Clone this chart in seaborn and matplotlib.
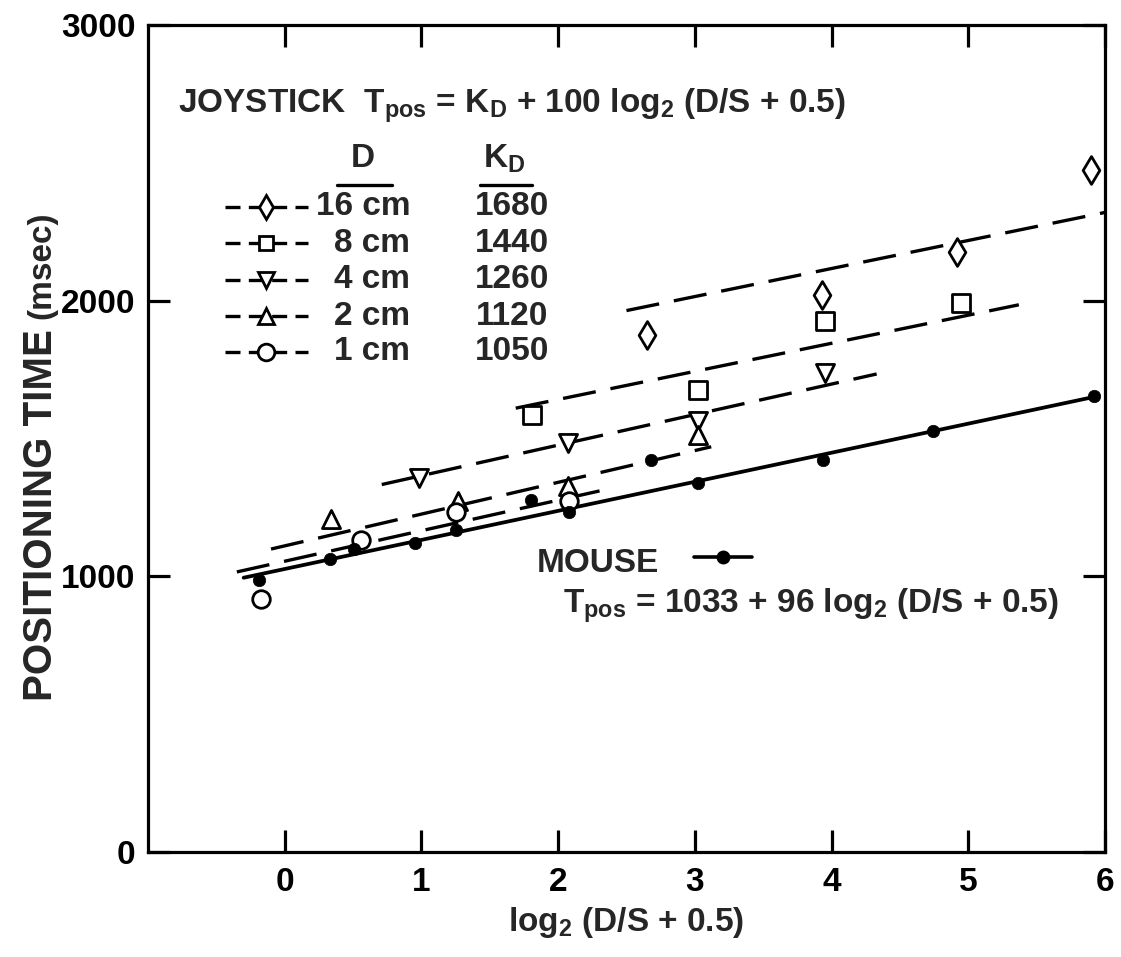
import numpy as np
import pandas as pd
import matplotlib
matplotlib.use("Agg")
import matplotlib.pyplot as plt
import seaborn as sns

# ---------------- data ----------------
x_ticks = [0, 1, 2, 3, 4, 5, 6]
y_ticks = [0, 1000, 2000, 3000]

mouse_x = [-0.19, 0.33, 0.51, 0.95, 1.25, 1.80, 2.08, 2.68, 3.02, 3.94, 4.74, 5.92]
mouse_y = [985, 1062, 1100, 1122, 1169, 1277, 1235, 1421, 1337, 1421, 1526, 1654]
mouse_fit_x = [-0.30, 5.95]
mouse_fit_y = [995, 1654]

joy_labels = ["16 cm", "8 cm", "4 cm", "2 cm", "1 cm"]
joy_kd = [1680, 1440, 1260, 1120, 1050]
joy_markers = ["d", "s", "v", "^", "o"]

d16_x = [2.65, 3.93, 4.92, 5.90]
d16_y = [1876, 2022, 2175, 2474]
d8_x = [1.81, 3.02, 3.95, 4.95]
d8_y = [1585, 1676, 1927, 1993]
d4_x = [0.98, 2.07, 3.02, 3.95]
d4_y = [1355, 1483, 1563, 1738]
d2_x = [0.34, 1.27, 2.07, 3.02]
d2_y = [1209, 1275, 1326, 1512]
d1_x = [-0.17, 0.56, 1.25, 2.08]
d1_y = [918, 1133, 1235, 1275]

fit16_x = [2.50, 6.00]
fit16_y = [1964, 2320]
fit8_x = [1.69, 5.37]
fit8_y = [1610, 1985]
fit4_x = [0.71, 4.33]
fit4_y = [1333, 1734]
fit2_x = [-0.10, 3.12]
fit2_y = [1099, 1470]
fit1_x = [-0.35, 2.35]
fit1_y = [1016, 1315]

# ---------------- style ----------------
sns.set_theme(style="ticks")
plt.rcParams['font.family'] = ['Liberation Sans', 'DejaVu Sans']
plt.rcParams['font.weight'] = 'bold'
plt.rcParams['mathtext.fontset'] = 'custom'
plt.rcParams['mathtext.rm'] = 'Liberation Sans:bold'
plt.rcParams['mathtext.it'] = 'Liberation Sans:bold'
plt.rcParams['mathtext.bf'] = 'Liberation Sans:bold'
plt.rcParams['axes.linewidth'] = 2.3

fig = plt.figure(figsize=(11.21, 9.57), dpi=100)
fig.patch.set_facecolor('white')
ax = fig.add_axes([0.1320, 0.1097, 0.8537, 0.8642])
ax.set_facecolor('white')

FS = 24
LW = 2.4
dash = (0, (10, 4.5))

series = [
    (d16_x, d16_y, fit16_x, fit16_y, "d", 200),
    (d8_x, d8_y, fit8_x, fit8_y, "s", 150),
    (d4_x, d4_y, fit4_x, fit4_y, "v", 170),
    (d2_x, d2_y, fit2_x, fit2_y, "^", 170),
    (d1_x, d1_y, fit1_x, fit1_y, "o", 160),
]
for xs, ys, fx, fy, mk, sz in series:
    sns.lineplot(x=fx, y=fy, ax=ax, color='black', lw=LW, linestyle=dash,
                 sort=False, estimator=None, zorder=2)

sns.lineplot(x=mouse_fit_x, y=mouse_fit_y, ax=ax, color='black', lw=LW + 0.3,
             sort=False, estimator=None, zorder=2)

for xs, ys, fx, fy, mk, sz in series:
    sns.scatterplot(x=xs, y=ys, ax=ax, marker=mk, s=sz, color='white',
                    edgecolor='black', linewidth=2.0, zorder=4)

sns.scatterplot(x=mouse_x, y=mouse_y, ax=ax, marker='o', s=80, color='black',
                edgecolor='black', linewidth=0.5, zorder=5)

ax.set_xlim(-1, 6)
ax.set_ylim(0, 3000)
ax.set_xticks(x_ticks)
ax.set_yticks(y_ticks)
ax.set_xticklabels([str(v) for v in x_ticks], fontsize=FS, fontweight='bold')
ax.set_yticklabels([str(v) for v in y_ticks], fontsize=FS, fontweight='bold')
ax.tick_params(direction='in', top=True, right=True, length=16, width=2.3,
               colors='black')
ax.tick_params(axis='x', pad=11)
ax.tick_params(axis='y', pad=9)
for sp in ax.spines.values():
    sp.set_visible(True)
    sp.set_color('black')
    sp.set_linewidth(2.3)

ax.set_xlabel(r"log$_{\mathrm{2}}$ (D/S + 0.5)", fontsize=24, fontweight='bold',
              labelpad=5)

# y label (two sizes)
t1 = fig.text(0.037, 0.268, "POSITIONING TIME", rotation=90, ha='center',
              va='bottom', fontsize=29, fontweight='bold')
fig.canvas.draw()
bb = t1.get_window_extent()
fig.text(0.037, (bb.y1 + 10) / fig.bbox.height, "(msec)", rotation=90,
         ha='center', va='bottom', fontsize=24, fontweight='bold')

# joystick header
T = ax.transAxes
ax.text(0.031, 0.894,
        r"JOYSTICK  T$_{\mathrm{pos}}$ = K$_{\mathrm{D}}$ + 100 log$_{\mathrm{2}}$ (D/S + 0.5)",
        transform=T, fontsize=FS, fontweight='bold', ha='left', va='baseline')
ax.text(0.225, 0.828, "D", transform=T, fontsize=FS, ha='center', va='baseline')
ax.text(0.350, 0.828, r"K$_{\mathrm{D}}$", transform=T, fontsize=FS, ha='left',
        va='baseline')
ax.plot([0.197, 0.255], [0.807, 0.807], transform=T, color='black', lw=2.4,
        clip_on=False)
ax.plot([0.347, 0.401], [0.807, 0.807], transform=T, color='black', lw=2.4,
        clip_on=False)

row_y = [0.780, 0.736, 0.692, 0.648, 0.605]
for i, (lab, kd, mk) in enumerate(zip(joy_labels, joy_kd, joy_markers)):
    yy = row_y[i]
    ax.plot([0.0805, 0.1235, 0.167], [yy, yy, yy], transform=T, color='black',
            lw=2.4, linestyle=(0, (4.5, 2.5)), marker=mk, markevery=[1],
            markersize=12 if mk != 's' else 10, markerfacecolor='white',
            markeredgecolor='black', markeredgewidth=2.0, clip_on=False)
    ax.text(0.274, yy, lab, transform=T, fontsize=FS, ha='right', va='center')
    ax.text(0.380, yy, str(kd), transform=T, fontsize=FS, ha='center',
            va='center')

# mouse legend
ax.text(0.406, 0.349, "MOUSE", transform=T, fontsize=FS, ha='left', va='center')
ax.plot([0.571, 0.601, 0.631], [0.357, 0.357, 0.357], transform=T,
        color='black', lw=2.6, marker='o', markevery=[1], markersize=9,
        clip_on=False)
ax.text(0.434, 0.290,
        r"T$_{\mathrm{pos}}$ = 1033 + 96 log$_{\mathrm{2}}$ (D/S + 0.5)",
        transform=T, fontsize=FS, ha='left', va='baseline')

fig.savefig("out.png", dpi=100, facecolor='white')
